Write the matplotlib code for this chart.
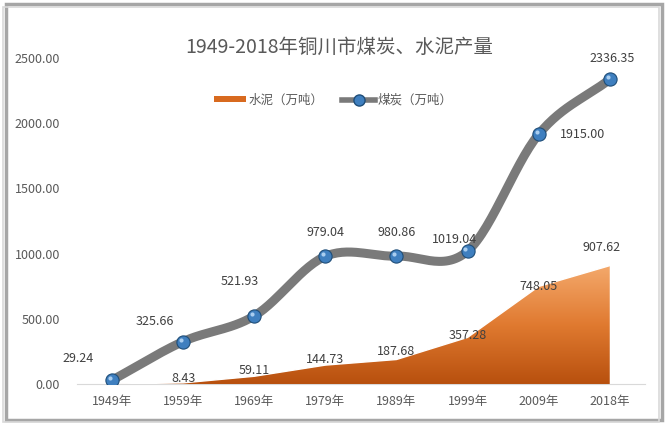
import numpy as np
import matplotlib
matplotlib.use("Agg")
import matplotlib.pyplot as plt
from matplotlib.patches import Rectangle, Patch
from matplotlib.lines import Line2D
from matplotlib.colors import LinearSegmentedColormap

plt.rcParams['font.family'] = ['Noto Sans CJK SC', 'DejaVu Sans']

years = ['1949年', '1959年', '1969年', '1979年', '1989年', '1999年', '2009年', '2018年']
coal = [29.24, 325.66, 521.93, 979.04, 980.86, 1019.04, 1915.00, 2336.35]
cement = [0.0, 8.43, 59.11, 144.73, 187.68, 357.28, 748.05, 907.62]
cement_labels = [None, '8.43', '59.11', '144.73', '187.68', '357.28', '748.05', '907.62']
yticks = [0, 500, 1000, 1500, 2000, 2500]

# label offsets in pixels (dx, dy)
coal_offsets = [(-34, 22), (-28, 20), (-14, 34), (0, 24), (0, 24), (-13, 12), (44, 0), (2, 21)]
cement_offsets = [(0, 0), (0, 4), (0, 6), (0, 6), (0, 8), (0, 2), (0, 0), (-8, 18)]

txt = '#595959'


def catmull_rom(x, y, n=30):
    # smoothed line like Excel's "smoothed line" option
    px = np.concatenate([[2 * x[0] - x[1]], x, [2 * x[-1] - x[-2]]])
    py = np.concatenate([[2 * y[0] - y[1]], y, [2 * y[-1] - y[-2]]])
    xs, ys = [], []
    for i in range(1, len(px) - 2):
        t = np.linspace(0, 1, n, endpoint=False)
        for arr, out in ((px, xs), (py, ys)):
            p0, p1, p2, p3 = arr[i - 1], arr[i], arr[i + 1], arr[i + 2]
            out.append(0.5 * ((2 * p1) + (-p0 + p2) * t
                              + (2 * p0 - 5 * p1 + 4 * p2 - p3) * t ** 2
                              + (-p0 + 3 * p1 - 3 * p2 + p3) * t ** 3))
    xs.append([x[-1]])
    ys.append([y[-1]])
    return np.concatenate(xs), np.concatenate(ys)


fig = plt.figure(figsize=(6.66, 4.25), dpi=100)
fig.patch.set_facecolor('white')
ax = fig.add_axes([0.1149, 0.0965, 0.854, 0.767])
ax.set_facecolor('none')

x = np.arange(len(years))

# cement area with vertical gradient
grad = LinearSegmentedColormap.from_list('org', ['#b8500e', '#e07a30', '#f4a96c'])
poly = ax.fill_between(x, 0, cement, color='none', lw=0)
img = ax.imshow(np.linspace(0, 1, 256).reshape(-1, 1), cmap=grad, aspect='auto',
                origin='lower', extent=[x[0], x[-1], 0, max(cement)], zorder=2)
img.set_clip_path(poly.get_paths()[0], transform=ax.transData)
ax.plot(x, cement, color='white', lw=1.0, zorder=2.5)

for xi, v, lab, (dx, dy) in zip(x, cement, cement_labels, cement_offsets):
    if lab:
        ax.annotate(lab, (xi, v), xytext=(dx, dy), textcoords='offset pixels',
                    ha='center', va='center', fontsize=9, color='#404040', zorder=5)

# coal smoothed line
sx, sy = catmull_rom(x.astype(float), np.array(coal))
ax.plot(sx, sy, color='#7a7a7a', lw=6.5, solid_capstyle='round', zorder=3)
ax.plot(x, coal, 'o', ms=9.5, mfc='#3f7fbf', mec='#1f4e79', mew=0.8, zorder=4)
ax.plot(x - 0.03, np.array(coal) + 15, 'o', ms=3, mfc='#a9cdef', mec='none', zorder=4.5)

for xi, v, (dx, dy) in zip(x, coal, coal_offsets):
    ax.annotate('%.2f' % v, (xi, v), xytext=(dx, dy), textcoords='offset pixels',
                ha='center', va='center', fontsize=9, color='#404040', zorder=5)

ax.set_xlim(-0.5, len(years) - 0.5)
ax.set_ylim(0, 2500)
ax.set_yticks(yticks)
ax.set_yticklabels(['%.2f' % t for t in yticks], fontsize=9, color=txt)
ax.set_xticks(x)
ax.set_xticklabels(years, fontsize=9, color=txt)
ax.tick_params(length=0, pad=8)
ax.tick_params(axis='y', pad=12)
for s in ['top', 'right', 'left']:
    ax.spines[s].set_visible(False)
ax.spines['bottom'].set_color('#d9d9d9')
ax.spines['bottom'].set_zorder(1)

fig.text(0.51, 0.888, '1949-2018年铜川市煤炭、水泥产量', ha='center', va='center',
         fontsize=14, color=txt)

handles = [Patch(facecolor='#d86a1f', edgecolor='none'),
           Line2D([], [], color='#7a7a7a', lw=4, marker='o', ms=8,
                  mfc='#3f7fbf', mec='#1f4e79')]
fig.legend(handles, ['水泥（万吨）', '煤炭（万吨）'], loc='center',
           bbox_to_anchor=(0.5, 0.764), ncol=2, frameon=False, fontsize=9,
           labelcolor=txt, handlelength=2.6, handleheight=0.4, columnspacing=1.5,
           handletextpad=0.2)

# outer frame with shadow
fig.patches.append(Rectangle((0.009, 0.012), 0.985, 0.978, transform=fig.transFigure,
                             fill=False, edgecolor='#a6a6a6', lw=2.5))
fig.patches.append(Rectangle((0.004, 0.006), 0.985, 0.978, transform=fig.transFigure,
                             fill=False, edgecolor='#d9d9d9', lw=1.2))

fig.savefig('out.png', dpi=100)
